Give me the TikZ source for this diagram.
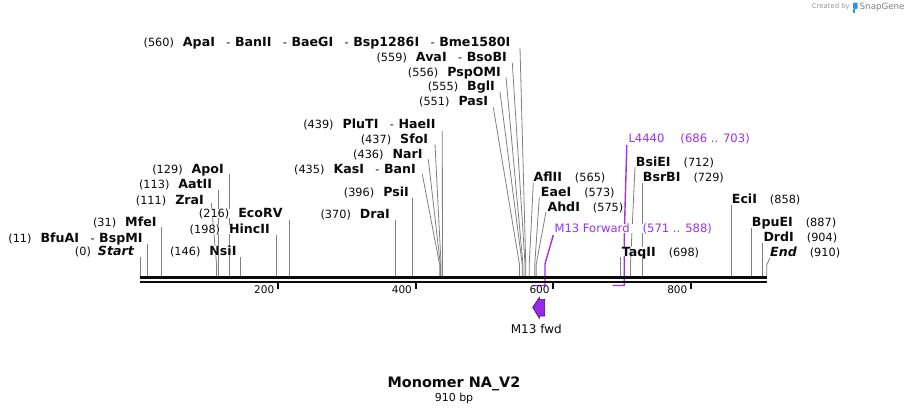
\documentclass[tikz,border=0pt]{standalone}
\usepackage{fontspec}
\setmainfont{DejaVu Sans}
\usetikzlibrary{calc}
\definecolor{feat}{RGB}{155,50,240}
\definecolor{cutgray}{RGB}{128,128,128}
\definecolor{arrowfill}{RGB}{150,40,230}
\definecolor{arrowdraw}{RGB}{60,20,90}
\definecolor{ink}{RGB}{10,10,10}
\definecolor{sgblue}{RGB}{40,150,230}
\newcommand\enzn[1]{{\fontsize{12.6}{12.6}\selectfont\bfseries #1}}
\newcommand\enzit[1]{{\fontsize{12.6}{12.6}\selectfont\bfseries\itshape #1}}
\newcommand\bpn[1]{{\fontsize{11.3}{11.3}\selectfont #1}}
\newcommand\jn{\hspace{11.5pt}\bpn{-}\hspace{4.5pt}}
\newcommand\gl{\hspace{9pt}}
\newcommand\gr{\hspace{13pt}}
\newcommand\cutv[3]{%
  \coordinate (#1-s) at ({140.2+0.6885*#2},276);
  \coordinate (#1-t) at ({140.2+0.6885*#2},#3);
  \draw[cutline] (#1-t) -- (#1-s);}
\newcommand\cuts[4]{%
  \coordinate (#1-s) at ({140.2+0.6885*#2},276);
  \coordinate (#1-t) at (#3,#4);
  \draw[cutline] (#1-t) -- ([yshift=11pt]#1-s) -- (#1-s);}
\begin{document}
\begin{tikzpicture}[x=1pt,y=-1pt,
  cutline/.style={draw=cutgray, line width=0.8pt},
  featline/.style={draw=feat, line width=1.4pt},
  lbl/.style={inner sep=0pt, text height=9pt, text depth=0pt, text=ink, fill=white},
  flbl/.style={inner sep=0pt, text height=8.5pt, text depth=0pt, text=feat, fill=white, font=\fontsize{11.6}{11.6}\selectfont},
  ticklbl/.style={inner sep=0pt, text height=7.6pt, text depth=0pt, text=ink, font=\fontsize{10.5}{10.5}\selectfont, anchor=east}]
\useasboundingbox (0,0) rectangle (909,415);
\fill[white] (0,0) rectangle (909,415);

% ---------- cut-site lines ----------
\cutv{Start}{0}{257}
\cutv{BfuAI}{11}{244}
\cutv{MfeI}{31}{227}
\cuts{ZraI}{111}{211.3}{203}
\cutv{AatII}{113}{190}
\cutv{ApoI}{129}{174}
\cutv{NsiI}{146}{257}
\cutv{HincII}{198}{235}
\cutv{EcoRV}{216}{220}
\cutv{DraI}{370}{220}
\cutv{PsiI}{396}{198.3}
\cuts{KasI}{435}{422.3}{174.3}
\cuts{NarI}{436}{428.3}{159.3}
\cuts{SfoI}{437}{435}{144.3}
\cuts{PluTI}{439}{442.3}{130.7}
\cuts{PasI}{551}{493.3}{107.3}
\cuts{BglI}{555}{500}{92}
\cuts{PspOMI}{556}{506}{77.3}
\cuts{AvaI}{559}{512.3}{63}
\cuts{ApaI}{560}{520}{48}
\cuts{AflII}{565}{533.3}{183}
\cuts{EaeI}{573}{539.3}{197.3}
\cuts{AhdI}{575}{546}{212}
\cutv{TaqII}{698}{256.7}
\cuts{BsiEI}{712}{635}{167}
\cutv{BsrBI}{729}{182.7}
\cutv{EciI}{858}{205}
\cutv{BpuEI}{887}{228.3}
\cutv{DrdI}{904}{243}
\cuts{End}{910}{770}{257.7}

% ---------- feature brackets ----------
\coordinate (m13a) at (553.3,235);
\coordinate (m13b) at (545.0,264);
\coordinate (m13c) at (545.0,285.5);
\coordinate (m13d) at (533.3,285.5);
\draw[featline] (m13a) -- (m13b) -- (m13c) -- (m13d);
\coordinate (l44a) at (626.8,145);
\coordinate (l44b) at (624.2,237);
\coordinate (l44c) at (624.2,285.5);
\coordinate (l44d) at (612.5,285.5);
\draw[featline] (l44a) -- (l44b) -- (l44c) -- (l44d);

% ---------- backbone ----------
\coordinate (bbL) at (140,277.3);
\coordinate (bbR) at (767.4,277.3);
\coordinate (bbL2) at (140,281.6);
\coordinate (bbR2) at (767.4,281.6);
\draw[ink, line width=2.8pt] (bbL) -- (bbR);
\draw[ink, line width=2.2pt] (bbL2) -- (bbR2);

% ---------- ticks ----------
\foreach \t in {200,400,600,800}{
  \coordinate (tk\t) at ({140.2+0.6885*\t},281);
  \draw[ink, line width=1.8pt] (tk\t) -- ++(0,8);
  \node[ticklbl] (tl\t) at ([xshift=-3.5pt,yshift=-8.5pt]tk\t) {\t};
}

% ---------- left labels ----------
\node[lbl, anchor=east] (lStart) at (134,251) {\bpn{(0)}\hspace{7pt}\enzit{Start}};
\node[lbl, anchor=east] (lBfu) at (142.7,237.7) {\bpn{(11)}\gl\enzn{BfuAI}\jn\enzn{BspMI}};
\node[lbl, anchor=east] (lMfe) at (156.7,221.7) {\bpn{(31)}\gl\enzn{MfeI}};
\node[lbl, anchor=east] (lZra) at (204,199.5) {\bpn{(111)}\gl\enzn{ZraI}};
\node[lbl, anchor=east] (lAat) at (212.3,183.5) {\bpn{(113)}\gl\enzn{AatII}};
\node[lbl, anchor=east] (lApo) at (224,169) {\bpn{(129)}\gl\enzn{ApoI}};
\node[lbl, anchor=east] (lNsi) at (236.7,250.7) {\bpn{(146)}\gl\enzn{NsiI}};
\node[lbl, anchor=east] (lHinc) at (270,229) {\bpn{(198)}\gl\enzn{HincII}};
\node[lbl, anchor=east] (lEco) at (282.7,213.3) {\bpn{(216)}\gl\enzn{EcoRV}};
\node[lbl, anchor=east] (lDra) at (390,214) {\bpn{(370)}\gl\enzn{DraI}};
\node[lbl, anchor=east] (lPsi) at (409,191.7) {\bpn{(396)}\gl\enzn{PsiI}};
\node[lbl, anchor=east] (lKas) at (416,169) {\bpn{(435)}\gl\enzn{KasI}\jn\enzn{BanI}};
\node[lbl, anchor=east] (lNar) at (422.7,154) {\bpn{(436)}\gl\enzn{NarI}};
\node[lbl, anchor=east] (lSfo) at (428.3,139.3) {\bpn{(437)}\gl\enzn{SfoI}};
\node[lbl, anchor=east] (lPlu) at (435.7,124) {\bpn{(439)}\gl\enzn{PluTI}\jn\enzn{HaeII}};
\node[lbl, anchor=east] (lPas) at (488.3,101) {\bpn{(551)}\gl\enzn{PasI}};
\node[lbl, anchor=east] (lBgl) at (495,86) {\bpn{(555)}\gl\enzn{BglI}};
\node[lbl, anchor=east] (lPsp) at (501,72) {\bpn{(556)}\gl\enzn{PspOMI}};
\node[lbl, anchor=east] (lAva) at (507,57) {\bpn{(559)}\gl\enzn{AvaI}\jn\enzn{BsoBI}};
\node[lbl, anchor=east] (lApa) at (510.5,42) {\bpn{(560)}\gl\enzn{ApaI}\jn\enzn{BanII}\jn\enzn{BaeGI}\jn\enzn{Bsp1286I}\jn\enzn{Bme1580I}};

% ---------- right labels ----------
\node[lbl, anchor=west] (rAfl) at (533.3,176.7) {\enzn{AflII}\gr\bpn{(565)}};
\node[lbl, anchor=west] (rEae) at (540.7,191.7) {\enzn{EaeI}\gr\bpn{(573)}};
\node[lbl, anchor=west] (rAhd) at (547.3,206.7) {\enzn{AhdI}\gr\bpn{(575)}};
\node[flbl, anchor=west] (rM13) at (554.3,228.3) {M13 Forward\hspace{13pt}(571 .. 588)};
\node[lbl, anchor=west] (rTaq) at (621.7,251.7) {\enzn{TaqII}\gr\bpn{(698)}};
\node[flbl, anchor=west] (rL44) at (628.3,138.5) {L4440\hspace{16pt}(686 .. 703)};
\node[lbl, anchor=west] (rBsi) at (635.7,161.7) {\enzn{BsiEI}\gr\bpn{(712)}};
\node[lbl, anchor=west] (rBsr) at (642.7,176.7) {\enzn{BsrBI}\gr\bpn{(729)}};
\node[lbl, anchor=west] (rEci) at (731.7,199) {\enzn{EciI}\gr\bpn{(858)}};
\node[lbl, anchor=west] (rBpu) at (751.7,222.3) {\enzn{BpuEI}\gr\bpn{(887)}};
\node[lbl, anchor=west] (rDrd) at (763.3,237.3) {\enzn{DrdI}\gr\bpn{(904)}};
\node[lbl, anchor=west] (rEnd) at (770,251.7) {\enzit{End}\hspace{13pt}\bpn{(910)}};

% ---------- M13 fwd feature arrow ----------
\draw[fill=arrowfill, draw=arrowdraw, line width=0.6pt, line join=miter]
  (532.7,307.3) -- (539.3,297.3) -- (539.3,299.3) -- (544.7,299.3) -- (544.7,316)
  -- (539.3,316) -- (539.3,318.3) -- cycle;
\node[inner sep=0pt, text=ink, font=\fontsize{12}{12}\selectfont] (m13fwd) at (536.3,329) {M13 fwd};

% ---------- title ----------
\node[inner sep=0pt, text=ink, font=\fontsize{14.4}{14.4}\selectfont\bfseries] (title) at (454,384) {Monomer NA\_V2};
\node[inner sep=0pt, text=ink, font=\fontsize{11}{11}\selectfont] (size) at (454,398.5) {910 bp};

% ---------- credit ----------
\node[inner sep=0pt, anchor=east, text=black!40, font=\fontsize{6.9}{6.9}\selectfont] (credit) at (850,7) {Created by};
\fill[sgblue, rounded corners=1pt] (853,2.5) rectangle (857.5,9);
\fill[sgblue] (853,9) rectangle (855,12.5);
\node[inner sep=0pt, anchor=west, text=black!50, font=\fontsize{8.7}{8.7}\selectfont] (sg) at (859.5,7) {SnapGene};
\end{tikzpicture}
\end{document}
